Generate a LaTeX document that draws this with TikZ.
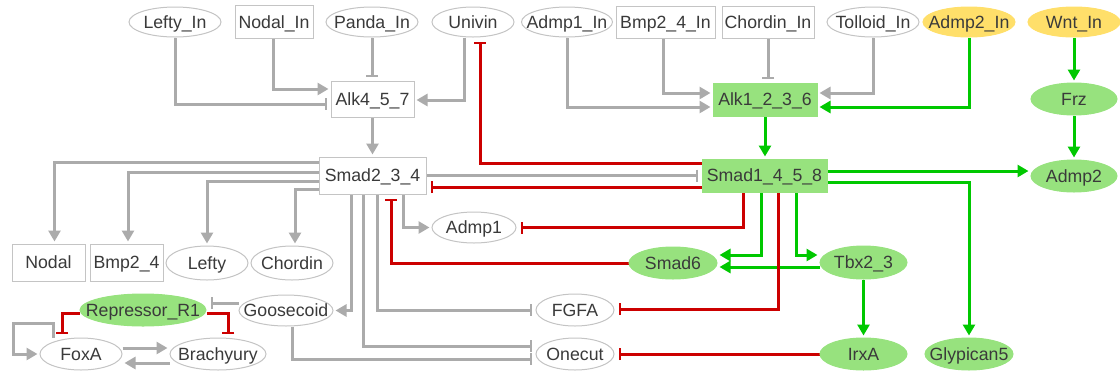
\documentclass[tikz,border=0pt]{standalone}
\usepackage{fontspec}
\setmainfont{Liberation Sans}
\usetikzlibrary{arrows.meta,shapes.geometric,backgrounds}
\definecolor{txt}{HTML}{3A3A3A}
\definecolor{bord}{HTML}{C4C4C4}
\definecolor{lgray}{HTML}{ABABAB}
\definecolor{dred}{HTML}{CC0000}
\definecolor{dgreen}{HTML}{00C800}
\definecolor{gfil}{HTML}{97E27E}
\definecolor{yfil}{HTML}{FFDF6A}
\newcommand\ntxt[1]{\makebox[0pt]{#1}}
\tikzset{
 lbl/.style={font=\fontsize{17.7}{20}\selectfont, text=txt, inner sep=0pt, text height=12.7pt, text depth=0pt},
 rbox/.style={lbl, rectangle, draw=bord, line width=1pt, fill=white},
 ell/.style={lbl, ellipse, draw=bord, line width=1pt, fill=white},
 gnode/.style={fill=gfil, draw=gfil},
 ynode/.style={fill=yfil, draw=yfil},
 conn/.style={line width=3pt},
 act/.style={conn, shorten >=2pt, -{Triangle[length=11pt,width=12pt]}},
 inh/.style={conn, shorten >=4pt, -{Bar[width=12pt,line width=2pt]}},
 ga/.style={act, draw=lgray}, gi/.style={inh, draw=lgray},
 ra/.style={act, draw=dred}, ri/.style={inh, draw=dred},
 gra/.style={act, draw=dgreen}, gri/.style={inh, draw=dgreen},
}
\begin{document}
\begin{tikzpicture}[x=1pt,y=-1pt]
\useasboundingbox (0,0) rectangle (1120,376);
% top row
\node[ell, minimum width=92pt, minimum height=30pt] (leftyin) at (175,22) {\ntxt{Lefty\_In}};
\node[rbox, minimum width=78pt, minimum height=33pt] (nodalin) at (274,22) {\ntxt{Nodal\_In}};
\node[ell, minimum width=92pt, minimum height=30pt] (pandain) at (372,22) {\ntxt{Panda\_In}};
\node[ell, minimum width=82pt, minimum height=30pt] (univin) at (473,22) {\ntxt{Univin}};
\node[ell, minimum width=91pt, minimum height=30pt] (admp1in) at (567,22) {\ntxt{Admp1\_In}};
\node[rbox, minimum width=99pt, minimum height=32pt] (bmp24in) at (665.5,22) {\ntxt{Bmp2\_4\_In}};
\node[rbox, minimum width=92pt, minimum height=32pt] (chordinin) at (768,22) {\ntxt{Chordin\_In}};
\node[ell, minimum width=92pt, minimum height=30pt] (tolloidin) at (873,22) {\ntxt{Tolloid\_In}};
\node[ell, ynode, minimum width=92pt, minimum height=30pt] (admp2in) at (969,22) {\ntxt{Admp2\_In}};
\node[ell, ynode, minimum width=92pt, minimum height=30pt] (wntin) at (1074,22) {\ntxt{Wnt\_In}};
% receptors
\node[rbox, minimum width=83pt, minimum height=36pt] (alk4) at (372.5,99) {\ntxt{Alk4\_5\_7}};
\node[rbox, gnode, minimum width=104pt, minimum height=33pt] (alk1) at (765,99.5) {\ntxt{Alk1\_2\_3\_6}};
\node[ell, gnode, minimum width=86pt, minimum height=32pt] (frz) at (1074,99) {\ntxt{Frz}};
% smads
\node[rbox, minimum width=107pt, minimum height=37pt] (smad234) at (372.5,175.5) {\ntxt{Smad2\_3\_4}};
\node[rbox, gnode, minimum width=125pt, minimum height=33pt] (smad1) at (764.5,175.5) {\ntxt{Smad1\_4\_5\_8}};
\node[ell, gnode, minimum width=86pt, minimum height=32pt] (admp2) at (1074,176) {\ntxt{Admp2}};
% targets
\node[rbox, minimum width=73pt, minimum height=37pt] (nodal) at (48.5,262.5) {\ntxt{Nodal}};
\node[rbox, minimum width=73pt, minimum height=37pt] (bmp24) at (126.5,262.5) {\ntxt{Bmp2\_4}};
\node[ell, minimum width=82pt, minimum height=34pt] (lefty) at (207,263) {\ntxt{Lefty}};
\node[ell, minimum width=82pt, minimum height=34pt] (chordin) at (292,263) {\ntxt{Chordin}};
\node[ell, minimum width=84pt, minimum height=31pt] (admp1) at (474,227.5) {\ntxt{Admp1}};
\node[ell, gnode, minimum width=88pt, minimum height=32pt] (smad6) at (673,263) {\ntxt{Smad6}};
\node[ell, gnode, minimum width=87pt, minimum height=33pt] (tbx23) at (863.5,262.5) {\ntxt{Tbx2\_3}};
\node[ell, gnode, minimum width=126pt, minimum height=32pt] (repressor) at (143,310) {\ntxt{Repressor\_R1}};
\node[ell, minimum width=94pt, minimum height=31pt] (goosecoid) at (286,310.5) {\ntxt{Goosecoid}};
\node[ell, minimum width=78pt, minimum height=32pt] (fgfa) at (575,310) {\ntxt{FGFA}};
\node[ell, minimum width=82pt, minimum height=32pt] (foxa) at (81,354) {\ntxt{FoxA}};
\node[ell, minimum width=96pt, minimum height=32pt] (brachyury) at (218,354) {\ntxt{Brachyury}};
\node[ell, minimum width=78pt, minimum height=32pt] (onecut) at (575,354) {\ntxt{Onecut}};
\node[ell, gnode, minimum width=87pt, minimum height=32pt] (irxa) at (863.5,354) {\ntxt{IrxA}};
\node[ell, gnode, minimum width=88pt, minimum height=32pt] (glypican5) at (969,354) {\ntxt{Glypican5}};
\coordinate (loopc) at (13,323);
\begin{scope}[on background layer]
% inputs to Alk4_5_7
\draw[gi] (leftyin.south) |- ([yshift=-5pt]alk4.west);
\draw[ga] ([xshift=-1pt]nodalin.south) |- ([yshift=10pt]alk4.west);
\draw[gi] (pandain.south) -- (pandain.south |- alk4.north);
\draw[ga] ([xshift=-9pt]univin.south) |- ([yshift=-1pt]alk4.east);
\draw[ga] (alk4) -- (smad234);
% inputs to Alk1_2_3_6
\draw[ga] (admp1in.south) |- ([yshift=-7.5pt]alk1.west);
\draw[ga] ([xshift=-2.5pt]bmp24in.south) |- ([yshift=6.5pt]alk1.west);
\draw[gi] (chordinin.south) -- (chordinin.south |- alk1.north);
\draw[ga] (tolloidin.south) |- ([yshift=6.5pt]alk1.east);
\draw[gra] (admp2in.south) |- ([yshift=-7.5pt]alk1.east);
\draw[gra] (wntin) -- (frz);
\draw[gra] (frz) -- (admp2);
\draw[gra] (alk1) -- (alk1 |- smad1.north);
% Smad1_4_5_8 outputs
\draw[gra] ([yshift=4.5pt]smad1.east) -- ([yshift=4.5pt]smad1.east -| admp2.west);
\draw[gra] ([yshift=-6.5pt]smad1.east) -| (glypican5.north);
\draw[ri] ([yshift=12.5pt]smad1.west) -| ([xshift=7pt]univin.south);
\draw[gi] (smad234.east) -- (smad234.east -| smad1.west);
\draw[ri] ([yshift=-11.5pt]smad1.west) -- ([yshift=-11.5pt]smad1.west -| smad234.east);
\draw[ri] ([xshift=-21.5pt]smad1.south) |- (admp1.east);
\draw[gra] ([xshift=-3.5pt]smad1.south) |- ([yshift=8pt]smad6.east);
\draw[gra] ([xshift=31.5pt]smad1.south) |- ([yshift=7.5pt]tbx23.west);
\draw[gra] ([yshift=-4.5pt]tbx23.west) -- ([yshift=-4.5pt]tbx23.west -| smad6.east);
\draw[ri] ([xshift=13.5pt]smad1.south) |- ([yshift=1pt]fgfa.east);
\draw[ri] (irxa) -- (onecut);
\draw[gra] (tbx23) -- (irxa);
\draw[ri] (smad6.west) -| ([xshift=18.5pt]smad234.south);
% Smad2_3_4 outputs
\draw[ga] ([xshift=30.5pt]smad234.south) |- (admp1.west);
\draw[gi] ([xshift=4.5pt]smad234.south) |- (fgfa.west);
\draw[gi] ([xshift=-9.5pt]smad234.south) |- ([yshift=8pt]onecut.west);
\draw[gi] ([xshift=6pt]goosecoid.south) |- ([yshift=-5pt]onecut.west);
\draw[ga] ([xshift=-21.5pt]smad234.south) |- (goosecoid.east);
\draw[gi] ([yshift=7.5pt]goosecoid.west) -- ([yshift=7.5pt]goosecoid.west -| repressor.east);
\draw[ga] ([yshift=13.5pt]smad234.west) -| ([xshift=6pt]nodal.north);
\draw[ga] ([yshift=3.5pt]smad234.west) -| ([xshift=1.5pt]bmp24.north);
\draw[ga] ([yshift=-5.5pt]smad234.west) -| (lefty.north);
\draw[ga] ([yshift=-13.5pt]smad234.west) -| ([xshift=3pt]chordin.north);
% lower left
\draw[ri] ([yshift=-3pt]repressor.west) -| ([xshift=-19pt]foxa.north);
\draw[ri] ([yshift=-3pt]repressor.east) -| ([xshift=10pt]brachyury.north);
\draw[ga] ([yshift=6pt]foxa.east) -- ([yshift=6pt]foxa.east -| brachyury.west);
\draw[ga] ([yshift=-9pt]brachyury.west) -- ([yshift=-9pt]brachyury.west -| foxa.east);
\draw[ga] ([xshift=-28pt]foxa.north) |- (loopc) |- (foxa.west);
\end{scope}
\end{tikzpicture}
\end{document}
